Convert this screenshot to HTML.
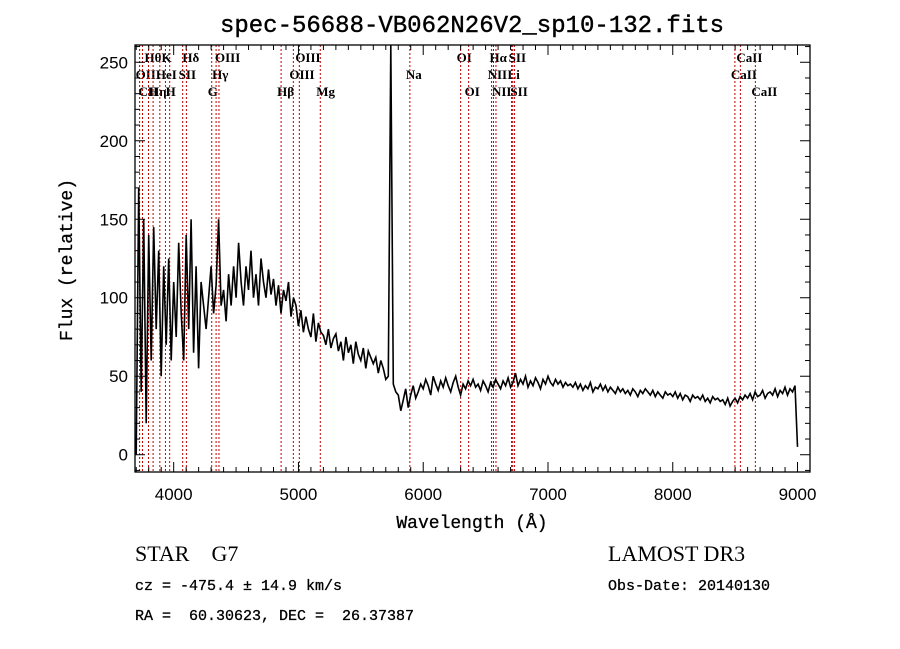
<!DOCTYPE html>
<html><head><meta charset="utf-8"><style>
body{margin:0;background:#fff;width:900px;height:649px;overflow:hidden}
svg{display:block}
.mono{font-family:"Liberation Mono",monospace}
.lbl{font-family:"Liberation Serif",serif;font-size:13px;font-weight:bold;fill:#000}
</style></head><body>
<svg id="chart" width="900" height="649">
<text class="mono" x="472" y="32" font-size="24" text-anchor="middle" stroke="#000" stroke-width="0.4">spec-56688-VB062N26V2_sp10-132.fits</text>
<g id="lines"></g>
<g id="spec"></g>
<g id="axes"></g>
<text class="mono" x="472" y="528" font-size="18" text-anchor="middle" stroke="#000" stroke-width="0.3">Wavelength (Å)</text>
<text class="mono" x="0" y="0" font-size="18" text-anchor="middle" stroke="#000" stroke-width="0.3" transform="translate(72,260) rotate(-90)">Flux (relative)</text>
<text x="135" y="561" font-family="Liberation Serif,serif" font-size="22" xml:space="preserve">STAR    G7</text>
<text x="608" y="561" font-family="Liberation Serif,serif" font-size="22">LAMOST DR3</text>
<text class="mono" x="135" y="590" font-size="15" stroke="#000" stroke-width="0.3">cz = -475.4 ± 14.9 km/s</text>
<text class="mono" x="608" y="590" font-size="15" stroke="#000" stroke-width="0.3">Obs-Date: 20140130</text>
<text class="mono" x="135" y="620" font-size="15" stroke="#000" stroke-width="0.3" xml:space="preserve">RA =  60.30623, DEC =  26.37387</text>
</svg>
<script>
const xStart=3700, xStep=20;
const flux=[0,170,40,150,20,
140,60,145,80,130,50,120,70,125,60,
110,75,135,90,60,140,80,150,65,120,
55,110,95,80,100,120,90,108,150,95,
105,85,115,95,120,100,135,110,95,120,
105,130,100,115,95,125,110,100,118,102,
112,95,108,90,105,98,110,88,100,95,
82,92,78,88,80,75,90,72,84,78,
76,70,80,68,74,77,66,72,60,75,
65,70,58,72,64,60,68,55,66,62,
58,62,52,60,55,
48,50,270,45,
40,38,28,35,42,30,38,44,36,40,45,
42,48,44,38,50,45,41,47,43,49,
44,40,46,50,43,38,45,42,47,44,
48,43,45,41,47,44,40,46,43,48,
45,42,47,44,49,43,46,52,44,48,
45,50,43,47,44,49,46,42,48,45,
50,46,44,48,45,47,43,46,44,45,
43,46,42,45,41,44,42,46,40,43,
42,45,41,44,40,43,41,39,43,40,
42,39,41,38,42,40,37,41,39,42,
40,38,41,37,40,38,36,40,38,39,
37,40,36,39,35,38,37,34,38,36,
37,35,38,34,36,33,37,35,36,34,
35,32,36,31,34,36,33,37,35,38,
36,39,35,40,37,38,41,36,39,40,
38,42,37,41,39,43,38,42,40,44,
5];
const lineWaves=[3727,3750,3798,3835,3889,3934,3968,4072,4102,4305,4340,4363,4861,4959,5007,5175,5893,6300,6364,6548,6563,6583,6708,6717,6731,8498,8542,8662];
const labelText=["OII","CH","Hθ","Hη","HeI","K","H","SII","Hδ","G","Hγ","OIII","Hβ","OIII","OIII","Mg","Na","OI","OI","NII","Hα","NII","Li","SII","SII","CaII","CaII","CaII"];
const labelRow=[2,3,1,3,2,1,3,2,1,3,2,1,3,2,1,3,2,1,3,2,1,3,2,1,3,2,1,3];
const xTicks=[4000,5000,6000,7000,8000,9000];
const yTicks=[0,50,100,150,200,250];
const X0=135,X1=810,Y0=472,Y1=45,xmin=3690,xmax=9100,ymin=-11,ymax=261;
const sx=w=>X0+(w-xmin)/(xmax-xmin)*(X1-X0);
const sy=f=>Y0-(f-ymin)/(ymax-ymin)*(Y0-Y1);
const NS="http://www.w3.org/2000/svg";
function mk(t,a,p){const e=document.createElementNS(NS,t);for(const k in a)e.setAttribute(k,a[k]);p.appendChild(e);return e;}
const L=document.getElementById('lines');
lineWaves.forEach((w,i)=>{
 const l=mk('line',{x1:sx(w),x2:sx(w),y1:Y1,y2:Y0,stroke:'#c00000','stroke-width':1,'stroke-dasharray':'2,2'},L);
 
 
 const t=mk('text',{x:sx(w)-4,y:62+(labelRow[i]-1)*17,class:'lbl'},L);
 t.textContent=labelText[i];
 
 
});
const S=document.getElementById('spec');
const pts=flux.map((f,i)=>sx(xStart+i*xStep).toFixed(1)+','+Math.max(Y1,sy(f)).toFixed(1)).join(' ');
const pl=mk('polyline',{points:pts,fill:'none',stroke:'#000','stroke-width':1.6},S);


const A=document.getElementById('axes');
const fr=mk('rect',{x:X0,y:Y1,width:X1-X0,height:Y0-Y1,fill:'none',stroke:'#000','stroke-width':1.3},A);


for(let w=3700;w<=9100;w+=100){const x=sx(w);const len=(w%1000===0)?10:5;
 mk('line',{x1:x,x2:x,y1:Y0,y2:Y0-len,stroke:'#000'},A);mk('line',{x1:x,x2:x,y1:Y1,y2:Y1+len,stroke:'#000'},A);}
for(let f=-10;f<=260;f+=10){const y=sy(f);const len=(f%50===0)?10:5;
 mk('line',{x1:X0,x2:X0+len,y1:y,y2:y,stroke:'#000'},A);mk('line',{x1:X1,x2:X1-len,y1:y,y2:y,stroke:'#000'},A);}
xTicks.forEach(v=>{const t=mk('text',{x:sx(v),y:500,'text-anchor':'middle','font-family':'Liberation Sans,sans-serif','font-size':17},A);t.textContent=v;
 
 });
yTicks.forEach(v=>{const t=mk('text',{x:128,y:sy(v)+6,'text-anchor':'end','font-family':'Liberation Sans,sans-serif','font-size':17},A);t.textContent=v;
 
 });
</script>
</body></html>
